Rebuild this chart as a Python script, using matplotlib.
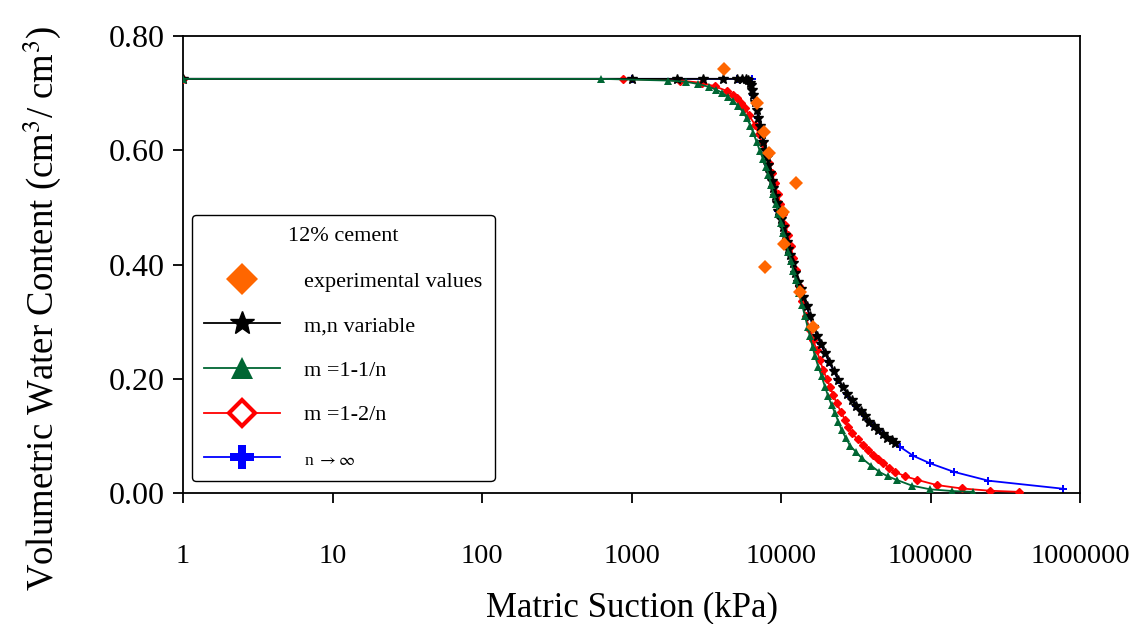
"""
Soil-water characteristic curve, 12% cement mix: measured points plus four fitted models.
Saves out.png.
"""

import matplotlib
matplotlib.use("Agg")
import matplotlib.pyplot as plt
import matplotlib.ticker as mticker

ORANGE = "#FF6600"
GREEN = "#006633"
RED = "#FF0000"
BLUE = "#0000FF"

plt.rcParams.update({
    "font.family": "Liberation Serif",
    "mathtext.fontset": "stix",
})

# measured suction (kPa) and water content
exp_suction = [4160, 6880, 7690, 8350, 12600, 10260, 10480, 7810, 13400, 16440]
exp_theta = [0.742, 0.683, 0.632, 0.595, 0.542, 0.492, 0.436, 0.396, 0.352, 0.291]

# m,n variable fit
mn_suction = [1, 1000, 2005, 3020, 4070, 5060, 5460, 5800, 6050, 6210,
              6300, 6420, 6530, 6680, 6860, 7050, 7240, 7420, 7620, 7820,
              8020, 8230, 8440, 8660, 8880, 9110, 9340, 9590, 9930, 10280,
              10640, 10920, 11200, 11490, 11950, 12480, 13050, 13560, 14100, 14830,
              15620, 16450, 17450, 18530, 19680, 21060, 22560, 24170, 25920, 27750,
              29700, 31800, 34030, 36450, 39050, 41820, 44760, 48000, 51400, 54980,
              57900]
mn_theta = [0.725, 0.725, 0.725, 0.725, 0.725, 0.725, 0.725, 0.724, 0.723, 0.718,
            0.714, 0.705, 0.697, 0.685, 0.671, 0.656, 0.642, 0.628, 0.615, 0.601,
            0.588, 0.574, 0.561, 0.547, 0.534, 0.520, 0.507, 0.493, 0.479, 0.465,
            0.452, 0.440, 0.428, 0.417, 0.402, 0.386, 0.370, 0.357, 0.344, 0.327,
            0.309, 0.291, 0.275, 0.260, 0.245, 0.229, 0.213, 0.198, 0.186, 0.174,
            0.163, 0.153, 0.143, 0.134, 0.125, 0.117, 0.110, 0.103, 0.097, 0.092,
            0.087]

# m = 1-1/n fit
m1_suction = [1, 622, 1755, 2300, 2785, 3300, 3700, 4010, 4400, 4780,
              5170, 5570, 5900, 6250, 6530, 6880, 7240, 7600, 7900, 8230,
              8560, 8900, 9250, 9610, 9980, 10370, 10770, 11190, 11620, 12070,
              12540, 13200, 13800, 14480, 15060, 15640, 16250, 16880, 17780, 18700,
              19680, 20710, 21800, 22960, 24180, 25470, 27160, 28960, 31700, 34700,
              40000, 45400, 52000, 59400, 75000, 99300, 140000, 193000]
m1_theta = [0.725, 0.725, 0.722, 0.720, 0.716, 0.711, 0.706, 0.701, 0.694, 0.686,
            0.677, 0.667, 0.656, 0.643, 0.630, 0.614, 0.598, 0.584, 0.571, 0.557,
            0.540, 0.523, 0.506, 0.489, 0.473, 0.456, 0.440, 0.422, 0.406, 0.389,
            0.373, 0.350, 0.330, 0.309, 0.291, 0.274, 0.256, 0.239, 0.221, 0.204,
            0.186, 0.169, 0.154, 0.140, 0.125, 0.110, 0.096, 0.083, 0.072, 0.061,
            0.048, 0.037, 0.029, 0.023, 0.013, 0.0065, 0.0035, 0.002]

# m = 1-2/n fit
m2_suction = [1, 873, 2110, 2950, 3600, 4330, 4800, 5060, 5400, 5740,
              6100, 6700, 7100, 7500, 7900, 8300, 8700, 9100, 9500, 9900,
              10300, 10700, 11150, 11600, 12100, 12600, 13150, 13750, 14600, 15640,
              16450, 17330, 18230, 19190, 20210, 21270, 22400, 23590, 25150, 26800,
              28200, 29700, 32500, 35540, 38400, 41430, 44800, 48330, 53000, 57900,
              68000, 81600, 110000, 161400, 250000, 391000]
m2_theta = [0.725, 0.725, 0.722, 0.718, 0.712, 0.704, 0.697, 0.691, 0.683, 0.674,
            0.662, 0.644, 0.628, 0.612, 0.596, 0.578, 0.560, 0.542, 0.524, 0.506,
            0.488, 0.470, 0.451, 0.432, 0.412, 0.391, 0.362, 0.337, 0.310, 0.285,
            0.267, 0.250, 0.232, 0.215, 0.200, 0.186, 0.171, 0.157, 0.142, 0.128,
            0.116, 0.105, 0.094, 0.084, 0.075, 0.067, 0.059, 0.052, 0.044, 0.037,
            0.029, 0.023, 0.014, 0.008, 0.004, 0.002]

# n -> infinity fit
ninf_suction = [1, 1000, 5060, 6350, 6530, 7050, 7620, 8230, 8880, 9590,
                10640, 11490, 12480, 13560, 14830, 16450, 18530, 21060, 24170, 27750,
                31800, 36450, 41820, 48000, 54980, 62500, 76800, 99300, 143600, 243700,
                773000]
ninf_theta = [0.725, 0.725, 0.725, 0.725, 0.697, 0.656, 0.615, 0.574, 0.534, 0.493,
              0.452, 0.417, 0.386, 0.357, 0.327, 0.291, 0.260, 0.229, 0.198, 0.174,
              0.153, 0.134, 0.117, 0.103, 0.092, 0.081, 0.065, 0.052, 0.037, 0.0216,
              0.0075]

fig = plt.figure(figsize=(11.29, 6.24), dpi=100)
ax = fig.add_axes([0.1621, 0.2099, 0.7945, 0.7324])

ax.plot(ninf_suction, ninf_theta, color=BLUE, lw=1.3, marker="P", ms=6,
        mec=BLUE, mfc=BLUE, mew=0, label=r"n $\rightarrow\infty$", zorder=2)
ax.plot(m2_suction, m2_theta, color=RED, lw=1.3, marker="D", ms=4.5,
        mec=RED, mfc=RED, mew=1, label="m =1-2/n", zorder=3)
ax.plot(mn_suction, mn_theta, color="black", lw=1.3, marker="*", ms=7,
        mec="black", mfc="black", label="m,n variable", zorder=4)
ax.plot(m1_suction, m1_theta, color=GREEN, lw=1.3, marker="^", ms=5.5,
        mec=GREEN, mfc=GREEN, mew=0, label="m =1-1/n", zorder=5)
ax.plot(exp_suction, exp_theta, ls="none", marker="D", ms=7, mec=ORANGE,
        mfc=ORANGE, mew=0, label="experimental values", zorder=6)

ax.set_xscale("log")
ax.set_xlim(1, 1e6)
ax.set_ylim(0, 0.8)
ax.xaxis.set_major_locator(mticker.LogLocator(base=10, numticks=10))
ax.xaxis.set_minor_locator(mticker.NullLocator())
ax.xaxis.set_major_formatter(mticker.FuncFormatter(lambda x, _: f"{int(round(x))}"))
ax.yaxis.set_major_locator(mticker.MultipleLocator(0.2))
ax.yaxis.set_major_formatter(mticker.FormatStrFormatter("%.2f"))
ax.tick_params(axis="both", direction="out", length=7, width=1.3)
ax.tick_params(axis="x", pad=30, labelsize=20.5)
ax.tick_params(axis="y", pad=6, labelsize=23)
for sp in ax.spines.values():
    sp.set_linewidth(1.3)

ax.set_xlabel("Matric Suction (kPa)", fontsize=25, labelpad=16)
ax.set_ylabel(r"Volumetric Water Content (cm$^3$/ cm$^3$)", fontsize=26.5)
ax.yaxis.set_label_coords(-0.134, 0.405)

handles, labels = ax.get_legend_handles_labels()
order = [4, 2, 3, 1, 0]
leg = ax.legend([handles[i] for i in order], [labels[i] for i in order],
                loc="lower left", bbox_to_anchor=(0.010, 0.026), borderaxespad=0,
                title="12% cement", title_fontsize=16, fontsize=16,
                handlelength=3.4, handletextpad=1.1, labelspacing=1.08,
                borderpad=0.55, fancybox=True, framealpha=1, edgecolor="black")
leg.get_frame().set_linewidth(1.0)
leg._legend_box.sep = 18
big = [16, 18, 16, 13, 17]
for h, s in zip(leg.legend_handles, big):
    h.set_markersize(s)
leg.legend_handles[3].set_markerfacecolor("white")
leg.legend_handles[3].set_markeredgewidth(3)
leg.get_texts()[4].set_fontsize(12.5)

fig.savefig("out.png", dpi=100)
